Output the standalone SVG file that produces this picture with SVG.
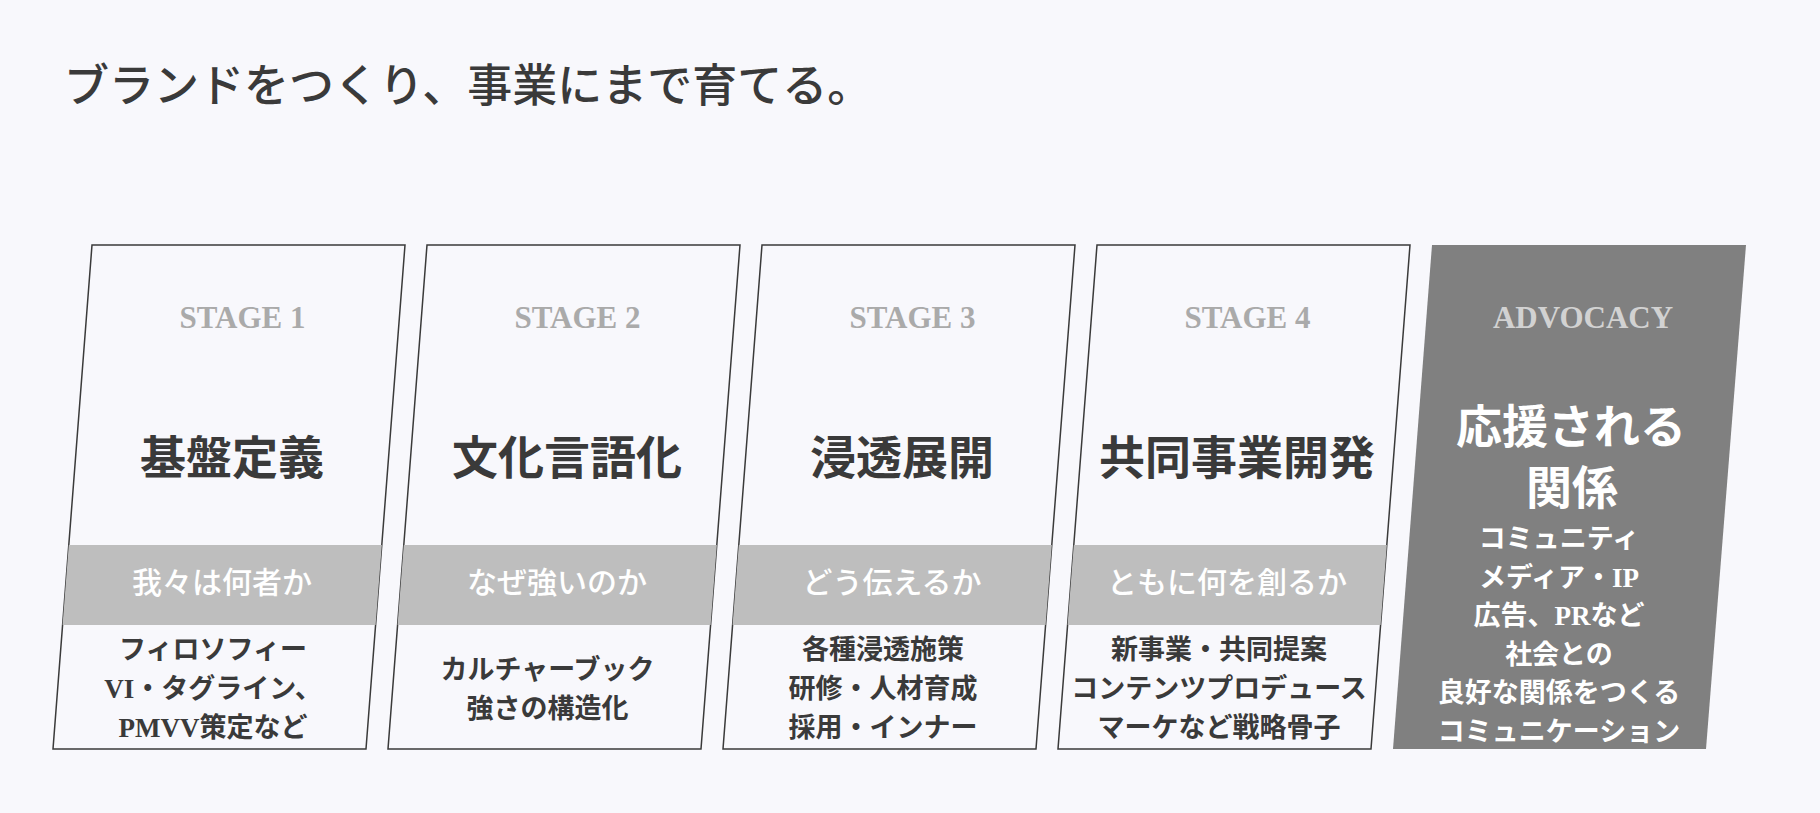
<svg xmlns="http://www.w3.org/2000/svg" width="1820" height="813" viewBox="0 0 1820 813">
<style>
text{font-family:'Liberation Serif','Noto Sans CJK JP',serif;text-anchor:middle}
.card{fill:#f8f8fc;stroke:#3a3a3a;stroke-width:1.5}
.adv{fill:#808080}
.band{fill:#bebebe}
.stage{font-size:31px;font-weight:700;fill:#aaaaaa}
.title{font-size:46px;font-weight:700;fill:#3a3a3a}
.tag{font-size:30px;font-weight:500;fill:#ffffff}
.body{font-size:27px;font-weight:700;fill:#3a3a3a}
.head{font-size:45px;font-weight:500;fill:#3a3a3a;text-anchor:start}
.w{fill:#ffffff}
</style>
<rect width="1820" height="813" fill="#f8f8fc"/>
<text class="head" x="64" y="102">ブランドをつくり、事業にまで育てる。</text>

<g id="stage1">
<polygon class="card" points="92,245 405,245 366,749 53,749"/>
<polygon class="band" points="68.8,545 381.8,545 375.6,625 62.6,625"/>
<text class="stage" x="242.5" y="328">STAGE 1</text>
<text class="title" x="232" y="474">基盤定義</text>
<text class="tag" x="222" y="593">我々は何者か</text>
<text class="body" x="213" y="659">フィロソフィー</text>
<text class="body" x="213" y="698">VI・タグライン、</text>
<text class="body" x="213" y="737">PMVV策定など</text>
</g>

<g id="stage2">
<polygon class="card" points="427,245 740,245 701,749 388,749"/>
<polygon class="band" points="403.8,545 716.8,545 710.6,625 397.6,625"/>
<text class="stage" x="577.5" y="328">STAGE 2</text>
<text class="title" x="567" y="474">文化言語化</text>
<text class="tag" x="557" y="593">なぜ強いのか</text>
<text class="body" x="547.5" y="679">カルチャーブック</text>
<text class="body" x="547.5" y="718">強さの構造化</text>
</g>

<g id="stage3">
<polygon class="card" points="762,245 1075,245 1036,749 723,749"/>
<polygon class="band" points="738.8,545 1051.8,545 1045.6,625 732.6,625"/>
<text class="stage" x="912.5" y="328">STAGE 3</text>
<text class="title" x="902" y="474">浸透展開</text>
<text class="tag" x="892" y="593">どう伝えるか</text>
<text class="body" x="883" y="659">各種浸透施策</text>
<text class="body" x="883" y="698">研修・人材育成</text>
<text class="body" x="883" y="737">採用・インナー</text>
</g>

<g id="stage4">
<polygon class="card" points="1097,245 1410,245 1371,749 1058,749"/>
<polygon class="band" points="1073.8,545 1386.8,545 1380.6,625 1067.6,625"/>
<text class="stage" x="1247.5" y="328">STAGE 4</text>
<text class="title" x="1237" y="474">共同事業開発</text>
<text class="tag" x="1227" y="593">ともに何を創るか</text>
<text class="body" x="1219" y="659">新事業・共同提案</text>
<text class="body" x="1219" y="698">コンテンツプロデュース</text>
<text class="body" x="1219" y="737">マーケなど戦略骨子</text>
</g>

<g id="advocacy">
<polygon class="adv" points="1432,245 1746,245 1706,749 1393,749"/>
<text class="stage" x="1583" y="328" style="fill:#d2d2d2">ADVOCACY</text>
<text class="title w" x="1571" y="443" style="fill:#ffffff">応援される</text>
<text class="title w" x="1572" y="504" style="fill:#ffffff">関係</text>
<text class="body w" x="1559" y="548" style="fill:#ffffff">コミュニティ</text>
<text class="body w" x="1559" y="586.6" style="fill:#ffffff">メディア・IP</text>
<text class="body w" x="1559" y="625.2" style="fill:#ffffff">広告、PRなど</text>
<text class="body w" x="1559" y="663.8" style="fill:#ffffff">社会との</text>
<text class="body w" x="1559" y="702.4" style="fill:#ffffff">良好な関係をつくる</text>
<text class="body w" x="1559" y="741" style="fill:#ffffff">コミュニケーション</text>
</g>
</svg>
